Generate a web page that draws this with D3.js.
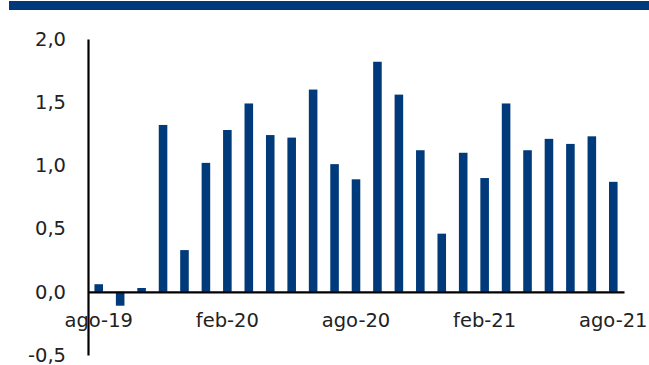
<!DOCTYPE html>
<html>
<head>
<meta charset="utf-8">
<script src="https://cdn.jsdelivr.net/npm/d3@7"></script>
<style>
  html, body { margin: 0; padding: 0; background: #fff; }
  svg { display: block; }
  text { font-family: "DejaVu Sans", sans-serif; fill: #222; }
</style>
</head>
<body>
<svg id="chart" width="649" height="365"></svg>
<script>
// Monthly values, ago-19 .. ago-21
const months = ["ago-19","sep-19","oct-19","nov-19","dic-19","ene-20","feb-20","mar-20","abr-20","may-20","jun-20","jul-20",
                "ago-20","sep-20","oct-20","nov-20","dic-20","ene-21","feb-21","mar-21","abr-21","may-21","jun-21","jul-21","ago-21"];
const values = [0.06,-0.11,0.03,1.32,0.33,1.02,1.28,1.49,1.24,1.22,1.60,1.01,
                0.89,1.82,1.56,1.12,0.46,1.10,0.90,1.49,1.12,1.21,1.17,1.23,0.87];
const xTickLabels = ["ago-19","feb-20","ago-20","feb-21","ago-21"];
const yTicks = [-0.5, 0, 0.5, 1.0, 1.5, 2.0];

const svg = d3.select("#chart");
const blue = "#003A7A";

// header band
svg.append("rect").attr("x", 9).attr("y", 1).attr("width", 640).attr("height", 9).attr("fill", blue);

const x = d3.scaleBand().domain(months).range([88, 624]).paddingInner(0.6).paddingOuter(0.3);
const y = d3.scaleLinear().domain([-0.5, 2.0]).range([355, 39]);

// bars
svg.append("g").selectAll("rect").data(values).join("rect")
  .attr("x", (d, i) => x(months[i]))
  .attr("width", x.bandwidth())
  .attr("y", d => Math.min(y(d), y(0)))
  .attr("height", d => Math.abs(y(d) - y(0)))
  .attr("fill", blue);

// y axis labels
const fmt = v => d3.format(".1f")(v).replace(".", ",").replace("−", "-");
const yAxis = d3.axisLeft(y).tickValues(yTicks).tickSize(0).tickPadding(22).tickFormat(fmt);
const gy = svg.append("g").attr("transform", "translate(88,0)").call(yAxis);
gy.select(".domain").attr("stroke", "#000").attr("stroke-width", 2.2);
gy.selectAll("text").style("font-size", "19.5px").attr("fill", "#222").style("font-family", "DejaVu Sans");

// x axis along zero
const xAxis = d3.axisBottom(x).tickValues(xTickLabels).tickSize(0).tickPadding(21).tickSizeOuter(0);
const gx = svg.append("g").attr("transform", `translate(0,${y(0)})`).call(xAxis);
gx.select(".domain").attr("stroke", "#000").attr("stroke-width", 2.2);
gx.selectAll("text").style("font-size", "19.5px").attr("fill", "#222").style("font-family", "DejaVu Sans");
</script>
</body>
</html>
